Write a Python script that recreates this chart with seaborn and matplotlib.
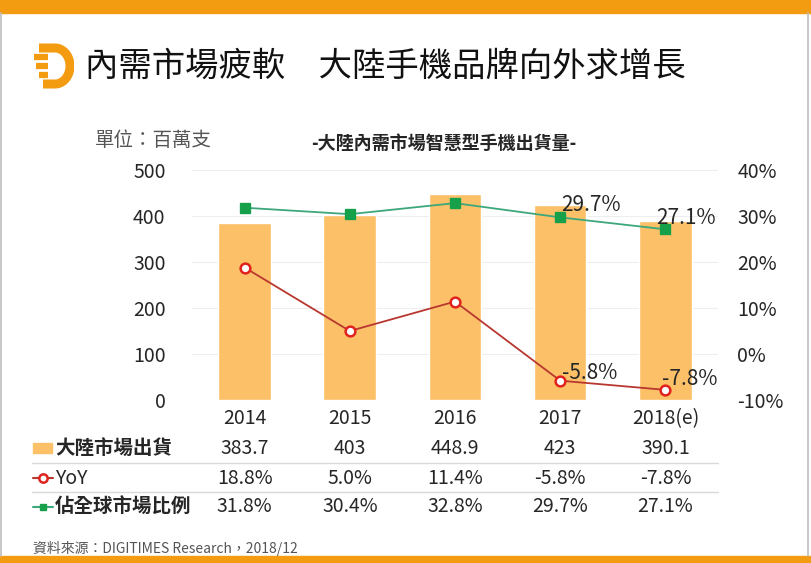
import numpy as np
import matplotlib
matplotlib.use('Agg')
import matplotlib.pyplot as plt
import matplotlib.patches as mpatches
import matplotlib.lines as mlines
import matplotlib.transforms as mtransforms
import seaborn as sns

# 資料
years = ['2014', '2015', '2016', '2017', '2018(e)']
shipments = [383.7, 403, 448.9, 423, 390.1]
yoy = [18.8, 5.0, 11.4, -5.8, -7.8]
share = [31.8, 30.4, 32.8, 29.7, 27.1]

shipment_labels = ['383.7', '403', '448.9', '423', '390.1']
yoy_labels = ['18.8%', '5.0%', '11.4%', '-5.8%', '-7.8%']
share_labels = ['31.8%', '30.4%', '32.8%', '29.7%', '27.1%']

# 顏色
bar_color = '#FCC068'
red_line = '#B8372F'
red_mark = '#E0231C'
green_line = '#3DA77C'
green_mark = '#16A04A'
orange = '#F39C12'
txt = '#262626'

sns.set_style('white')
plt.rcParams['font.family'] = ['Noto Sans CJK TC', 'DejaVu Sans']

W, H = 812, 563
fig = plt.figure(figsize=(W / 100, H / 100), dpi=100)

def fx(px):
    return px / W

def fy(py):
    return 1 - py / H

# 外框
fig.patches.append(mpatches.Rectangle((0, fy(13)), 1, 13 / H, transform=fig.transFigure,
                                      color=orange, zorder=0))
fig.patches.append(mpatches.Rectangle((0, 0), 1, 7 / H, transform=fig.transFigure,
                                      color=orange, zorder=0))
for xpx in [1.5, 808.5]:
    fig.add_artist(mlines.Line2D([fx(xpx), fx(xpx)], [fy(556), fy(13)],
                                 color='#bdbdbd', lw=1.2))

# 主圖
ax = fig.add_axes([fx(192), fy(400), fx(718) - fx(192), fy(170) - fy(400)])
sns.barplot(x=years, y=shipments, color=bar_color, saturation=1, width=0.5, ax=ax, zorder=2)
ax.set_ylim(0, 500)
ax.set_yticks(range(0, 501, 100))
ax.yaxis.grid(True, color='#eeeeee', lw=0.8, zorder=0)
ax.set_axisbelow(True)
ax.tick_params(axis='y', length=0, pad=19, labelsize=14, labelcolor=txt)
ax.tick_params(axis='x', length=0, pad=6, labelsize=14, labelcolor=txt)
ax.set_xlabel('')
ax.set_ylabel('')
for s in ax.spines.values():
    s.set_visible(False)

ax2 = ax.twinx()
sns.pointplot(x=years, y=share, ax=ax2, color=green_line, markers='s', errorbar=None,
              linewidth=1.3, markersize=6.5, markerfacecolor=green_mark,
              markeredgecolor=green_mark)
sns.pointplot(x=years, y=yoy, ax=ax2, color=red_line, markers='o', errorbar=None,
              linewidth=1.3, markersize=7, markerfacecolor='white',
              markeredgecolor=red_mark, markeredgewidth=1.8)
ax2.set_ylim(-10, 40)
ax2.set_yticks(range(-10, 41, 10))
ax2.set_yticklabels([f'{v}%' for v in range(-10, 41, 10)])
ax2.tick_params(axis='y', length=0, pad=14, labelsize=14, labelcolor=txt)
ax2.set_ylabel('')
ax2.set_xlabel('')
for s in ax2.spines.values():
    s.set_visible(False)
ax.set_xlim(-0.5, 4.5)
ax.set_xticks(range(len(years)))
ax.set_xticklabels(years)

# 數據標籤 (2017, 2018)
label_offsets = {3: ((1, 12), (2, 8)), 4: ((-9, 11), (-3, 11))}
for i, (o_share, o_yoy) in label_offsets.items():
    ax2.annotate(share_labels[i], (i, share[i]), xytext=o_share, textcoords='offset pixels',
                 ha='left', va='center', fontsize=15, color=txt)
    ax2.annotate(yoy_labels[i], (i, yoy[i]), xytext=o_yoy, textcoords='offset pixels',
                 ha='left', va='center', fontsize=15, color=txt)

# 標題
fig.text(fx(85), fy(66), '內需市場疲軟　大陸手機品牌向外求增長', fontsize=24,
         fontweight='medium', va='center', ha='left', color='#111111')
fig.text(fx(444), fy(143), '-大陸內需市場智慧型手機出貨量-', fontsize=13,
         fontweight='bold', va='center', ha='center', color=txt)
fig.text(fx(95), fy(141), '單位：百萬支', fontsize=14, va='center', ha='left', color='#555555')

# 標誌
lax = fig.add_axes([fx(33), fy(89), fx(74) - fx(33), fy(43) - fy(89)])
lax.set_xlim(0, 41)
lax.set_ylim(0, 46)
lax.axis('off')
t = np.linspace(np.pi / 2, -np.pi / 2, 40)
dx = np.concatenate([[6, 22], 22 + 15 * np.cos(t), [22, 10]])
dy = np.concatenate([[41, 41], 23 + 18 * np.sin(t), [5, 5]])
lax.plot(dx, dy, color=orange, lw=6.5, solid_capstyle='butt', solid_joinstyle='round')
for yy, x0, x1 in [(32, 1, 15), (23, 3, 15), (14, 6, 15)]:
    lax.plot([x0, x1], [yy, yy], color=orange, lw=4.5, solid_capstyle='butt')

# 表格
tr = mtransforms.blended_transform_factory(ax.transData, fig.transFigure)
rows = [(449, shipment_labels), (478, yoy_labels), (507, share_labels)]
for ypx, labels in rows:
    for i, lab in enumerate(labels):
        fig.text(i, fy(ypx), lab, transform=tr, fontsize=14, ha='center', va='center', color=txt)

for ypx in [463, 492]:
    fig.add_artist(mlines.Line2D([fx(32), fx(718)], [fy(ypx), fy(ypx)], color='#d9d9d9', lw=1))

fig.patches.append(mpatches.Rectangle((fx(33), fy(453)), 19 / W, 10 / H,
                                      transform=fig.transFigure, color=bar_color))
fig.text(fx(55), fy(449), '大陸市場出貨', fontsize=14, fontweight='bold', va='center', color=txt)

fig.add_artist(mlines.Line2D([fx(33), fx(53)], [fy(478), fy(478)], color=red_line, lw=1.5))
fig.add_artist(mlines.Line2D([fx(43)], [fy(478)], marker='o', ms=6, mfc='white',
                             mec=red_mark, mew=1.8))
fig.text(fx(55), fy(478), 'YoY', fontsize=14, va='center', color=txt)

fig.add_artist(mlines.Line2D([fx(33), fx(53)], [fy(507), fy(507)], color=green_line, lw=1.5))
fig.add_artist(mlines.Line2D([fx(43)], [fy(507)], marker='s', ms=5, mfc=green_mark,
                             mec=green_mark))
fig.text(fx(55), fy(507), '佔全球市場比例', fontsize=14, fontweight='bold', va='center', color=txt)

# 資料來源
fig.text(fx(33), fy(548), '資料來源：DIGITIMES Research，2018/12', fontsize=10,
         va='center', color='#555555')

fig.savefig('out.png', dpi=100)
